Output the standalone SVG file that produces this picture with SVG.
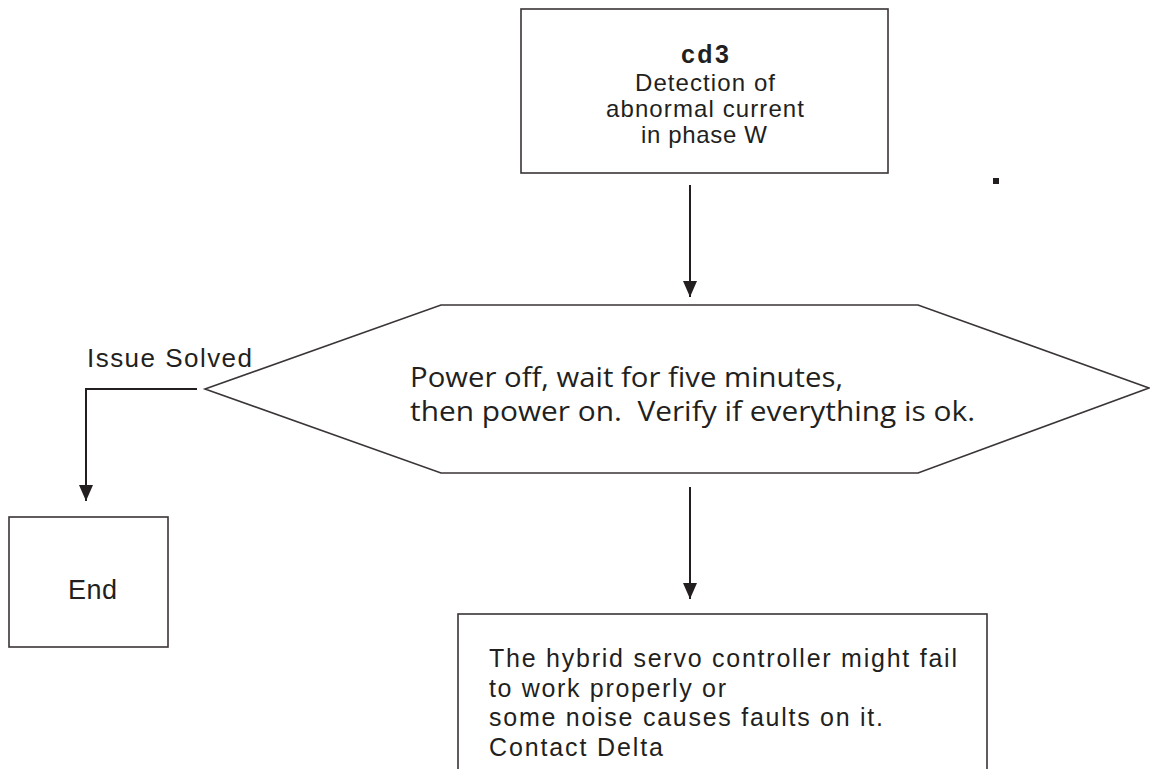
<svg xmlns="http://www.w3.org/2000/svg" width="1150" height="769" viewBox="0 0 1150 769">
<style>
.box{fill:#fff;stroke:#3a3536;stroke-width:1.6}
.conn{fill:none;stroke:#231f20;stroke-width:2}
.t{font-family:"Liberation Sans",Arial,sans-serif;fill:#231f20}
.h{font-family:"Open Sans","Noto Sans",sans-serif;fill:#231f20;font-size:27px}
</style>
<defs>
<marker id="ah" viewBox="0 0 16 14" refX="16" refY="7" markerWidth="16" markerHeight="14" markerUnits="userSpaceOnUse" orient="auto">
<path d="M0,0 L16,7 L0,14 Z" fill="#231f20"/>
</marker>
</defs>
<rect width="1150" height="769" fill="#fff"/>
<g id="connectors">
<line class="conn" x1="690" y1="185" x2="690" y2="297" marker-end="url(#ah)"/>
<line class="conn" x1="690" y1="487" x2="690" y2="599" marker-end="url(#ah)"/>
<polyline class="conn" points="197,389 86,389 86,501" marker-end="url(#ah)"/>
<text class="t" x="87" y="367" font-size="26" textLength="165" lengthAdjust="spacing">Issue Solved</text>
</g>
<g id="start">
<rect class="box" x="521" y="9" width="367" height="164"/>
<text class="t" x="705" y="63" font-size="25" font-weight="bold" text-anchor="middle" textLength="48" lengthAdjust="spacing">cd3</text>
<text class="t" x="705" y="91" font-size="24" text-anchor="middle" textLength="140" lengthAdjust="spacing">Detection of</text>
<text class="t" x="705" y="117" font-size="24" text-anchor="middle" textLength="198" lengthAdjust="spacing">abnormal current</text>
<text class="t" x="704" y="143" font-size="24" text-anchor="middle" textLength="126" lengthAdjust="spacing">in phase W</text>
</g>
<g id="dot">
<rect x="993" y="178" width="6" height="6" fill="#231f20"/>
</g>
<g id="decision">
<polygon class="box" points="205,389 441,305 918,305 1149,388 918,473 441,473"/>
<text class="h" x="410" y="387" textLength="433" lengthAdjust="spacingAndGlyphs">Power off, wait for five minutes,</text>
<text class="h" x="410" y="421" textLength="565" lengthAdjust="spacingAndGlyphs">then power on.&#160; Verify if everything is ok.</text>
</g>
<g id="end">
<rect class="box" x="9" y="517" width="159" height="130"/>
<text class="t" x="68" y="599" font-size="27" textLength="49" lengthAdjust="spacing">End</text>
</g>
<g id="fault">
<rect class="box" x="458" y="614" width="529" height="170"/>
<text class="t" x="489" y="667" font-size="25" textLength="468" lengthAdjust="spacing">The hybrid servo controller might fail</text>
<text class="t" x="489" y="697" font-size="25" textLength="237" lengthAdjust="spacing">to work properly or</text>
<text class="t" x="489" y="726" font-size="25" textLength="394" lengthAdjust="spacing">some noise causes faults on it.</text>
<text class="t" x="489" y="756" font-size="25" textLength="174" lengthAdjust="spacing">Contact Delta</text>
</g>
</svg>
